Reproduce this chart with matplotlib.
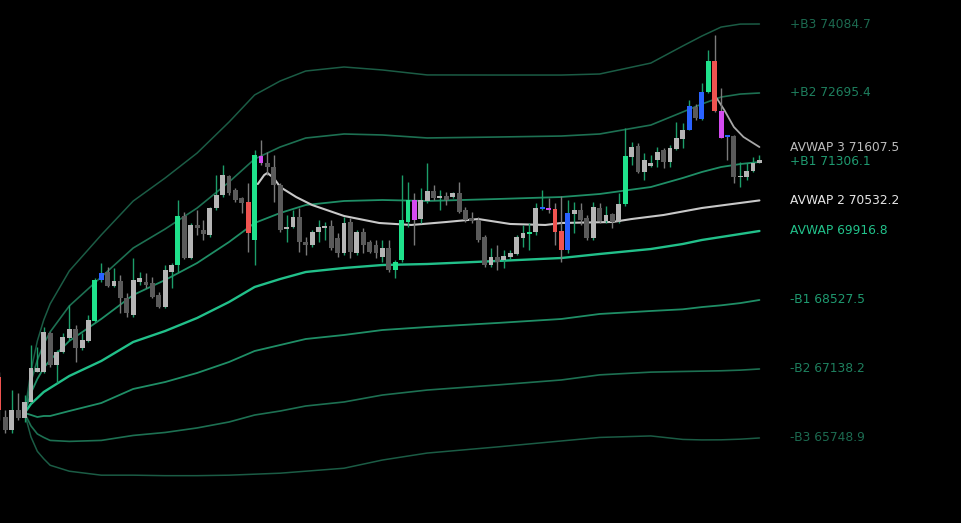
import matplotlib
matplotlib.use("Agg")
import matplotlib.pyplot as plt
import matplotlib.transforms as mtransforms
import numpy as np

# candles (price), one per bar
opens = [66977, 66172, 65910, 66313, 66152, 66474, 67078, 67078, 67863, 67219,
         67480, 67763, 67944, 67561, 67702, 68105, 68930, 69091, 68809, 68910,
         68568, 68226, 68890, 68890, 68870, 68628, 68386, 69091, 69232, 70219,
         69373, 70038, 69937, 69836, 70380, 70642, 71024, 70742, 70581, 70501,
         69736, 71427, 71286, 71205, 70843, 69957, 69997, 70199, 69695, 69635,
         69897, 69977, 70017, 69776, 69474, 70098, 69474, 69897, 69695, 69635,
         69393, 69575, 69132, 69333, 70098, 70541, 70158, 70521, 70722, 70581,
         70622, 70601, 70682, 70340, 70179, 70138, 69796, 69232, 69393, 69333,
         69393, 69454, 69776, 69856, 69897, 70360, 70380, 70360, 69917, 69534,
         70259, 70340, 70179, 69776, 70380, 70118, 70259, 70098, 70460, 71407,
         71628, 71105, 71226, 71346, 71548, 71306, 71568, 71769, 71950, 72414,
         72172, 72716, 73340, 72333, 71830, 71830, 71004, 71004, 71125, 71286]
highs = [67078, 66313, 66715, 66655, 66615, 67622, 67581, 67984, 67883, 67521,
         67863, 68427, 68024, 67863, 68226, 68971, 69272, 69192, 69172, 69031,
         68669, 69373, 69091, 69071, 68991, 68689, 69232, 69272, 70541, 70299,
         70078, 70340, 70138, 70400, 71044, 71246, 71044, 70783, 70601, 70883,
         71548, 71749, 71507, 71447, 70883, 70239, 70340, 70380, 69796, 69937,
         70138, 70098, 70138, 69876, 70199, 70179, 69937, 69977, 69736, 69736,
         69736, 69736, 69333, 71044, 70903, 70682, 70783, 71286, 70843, 70742,
         70702, 70702, 70903, 70400, 70299, 70199, 69836, 69575, 69635, 69534,
         69534, 69836, 70038, 70078, 70481, 70742, 70581, 70481, 70622, 70541,
         70501, 70481, 70239, 70501, 70481, 70420, 70279, 70682, 71991, 71709,
         71689, 71487, 71447, 71608, 71588, 71648, 72112, 72091, 72555, 72475,
         72897, 73561, 73863, 72796, 71850, 71850, 71306, 71286, 71407, 71447]
lows = [66111, 65850, 65850, 66111, 66071, 66454, 67078, 67058, 67178, 66856,
        67460, 67722, 67279, 67521, 67682, 68084, 68890, 68789, 68789, 68266,
        68185, 68185, 68830, 68769, 68568, 68366, 68366, 68769, 69091, 69353,
        69353, 69836, 69736, 69796, 70340, 70601, 70642, 70501, 70279, 69494,
        69232, 71246, 71044, 70501, 69897, 69695, 69977, 69494, 69434, 69595,
        69695, 69736, 69534, 69393, 69434, 69373, 69434, 69474, 69474, 69373,
        69293, 69091, 68971, 69293, 69997, 69635, 70078, 70481, 70541, 70340,
        70440, 70581, 70279, 70098, 70078, 69695, 69192, 69192, 69132, 69172,
        69353, 69434, 69595, 69534, 69836, 70340, 70279, 69635, 69293, 69474,
        69876, 70038, 69736, 69736, 70078, 70078, 69977, 70078, 70420, 71246,
        71085, 70944, 71205, 71205, 71185, 71205, 71548, 71588, 71950, 72152,
        72152, 72696, 72313, 71789, 71346, 70883, 70803, 70944, 71105, 71286]
closes = [66313, 65910, 66313, 66152, 66474, 67158, 67158, 67883, 67219, 67480,
          67783, 67944, 67561, 67722, 68125, 68930, 69071, 68809, 68910, 68568,
          68266, 68930, 68971, 68830, 68588, 68386, 69132, 69232, 70219, 69373,
          70038, 69977, 69856, 70380, 70642, 71044, 70682, 70541, 70481, 69876,
          71447, 71286, 71205, 70843, 69937, 69997, 70199, 69695, 69635, 69897,
          69997, 70017, 69575, 69474, 70078, 69494, 69897, 69635, 69494, 69474,
          69575, 69132, 69293, 70138, 70541, 70138, 70541, 70722, 70581, 70622,
          70541, 70682, 70299, 70138, 70118, 69736, 69232, 69393, 69293, 69413,
          69474, 69796, 69876, 69897, 70380, 70380, 70340, 69897, 69534, 70279,
          70340, 70138, 69776, 70400, 70118, 70239, 70098, 70460, 71427, 71608,
          71105, 71346, 71286, 71507, 71306, 71588, 71789, 71950, 72434, 72192,
          72716, 73340, 72333, 71789, 71810, 71004, 71024, 71125, 71286, 71346]
# body colour per bar: n normal, g green, r red, b blue, m magenta
kinds = ("r" "nnnnnnnnnnnnnn" "gb" "nnnnnnnnnnn" "g" "nnnnnnnnnn" "rgm"
         "nnnnnnnnnnnnnnnnnnnn" "gggm" "nnnnnnnnnnnnnnnnn" "gnbmrrb" "nnnnnnnn"
         "g" "nnnnnnnnn" "bnbgrmb" "nnnnn")

# anchored VWAP and its bands, read at these bar positions
band_x = [4, 5, 6, 7, 8, 11, 16, 21, 26, 31, 36, 40, 44, 48, 54, 60, 67, 78,
          88, 94, 102, 107, 110, 113, 116, 119]
avwap = [66252, 66434, 66554, 66675, 66756, 66997, 67299, 67682, 67903, 68165,
         68487, 68789, 68950, 69091, 69172, 69232, 69252, 69313, 69373, 69454,
         69554, 69655, 69736, 69796, 69856, 69916.8]
up1 = [66252, 66655, 66937, 67158, 67320, 67702, 68145, 68628, 68930, 69272,
       69695, 70078, 70279, 70440, 70521, 70541, 70521, 70561, 70601, 70662,
       70802, 70984, 71105, 71205, 71265, 71306.1]
up2 = [66252, 66876, 67320, 67641, 67884, 68407, 68991, 69574, 69957, 70379,
       70903, 71367, 71608, 71789, 71870, 71850, 71790, 71809, 71829, 71870,
       72050, 72313, 72474, 72614, 72674, 72695.4]
up3 = [66252, 67097, 67703, 68124, 68448, 69112, 69837, 70520, 70984, 71486,
       72111, 72656, 72937, 73138, 73219, 73159, 73059, 73057, 73057, 73078,
       73298, 73642, 73843, 74023, 74083, 74084.7]
dn1 = [66252, 66213, 66171, 66192, 66192, 66292, 66453, 66736, 66876, 67058,
       67279, 67500, 67621, 67742, 67823, 67923, 67983, 68065, 68145, 68246,
       68306, 68340, 68385, 68420, 68465, 68527.5]
dn2 = [66252, 65992, 65830, 65760, 65700, 65680, 65700, 65800, 65860, 65951,
       66071, 66211, 66292, 66393, 66474, 66614, 66714, 66817, 66917, 67020,
       67075, 67088, 67095, 67102, 67115, 67138.2]
dn3 = [66252, 65771, 65480, 65330, 65200, 65080, 65000, 65000, 64990, 64990,
       65000, 65020, 65040, 65080, 65140, 65305, 65445, 65569, 65689, 65760,
       65790, 65720, 65710, 65712, 65725, 65748.9]

# second anchored VWAP (from the big green bar) and third (from the top)
avwap2_x = [40.5, 41.5, 42, 43, 44, 46.5, 49, 54, 59.5, 64.5, 70, 75, 80, 85.5,
            88, 96, 99, 104, 110, 119]
avwap2 = [70863, 71044, 71085, 70984, 70803, 70601, 70440, 70219, 70078, 70038,
          70098, 70158, 70058, 70038, 70078, 70098, 70158, 70239, 70380, 70532.2]
avwap3_x = [112, 113.5, 115, 116.5, 119]
avwap3 = [72655, 72353, 72011, 71810, 71607.5]

labels = [("+B3", up3[-1], "#1c6a50"), ("+B2", up2[-1], "#1e7f5e"),
          ("AVWAP 3", avwap3[-1], "#bdbdbd"), ("+B1", up1[-1], "#1f9a70"),
          ("AVWAP 2", avwap2[-1], "#e6e6e6"), ("AVWAP", avwap[-1], "#22c28b"),
          ("-B1", dn1[-1], "#1f9a70"), ("-B2", dn2[-1], "#1e7f5e"),
          ("-B3", dn3[-1], "#1c6a50")]

body_colors = {"g": "#1fe28c", "r": "#ef5350", "b": "#2962ff", "m": "#d44bf0"}

fig = plt.figure(figsize=(9.62, 5.23), dpi=100, facecolor="black")
ax = fig.add_axes([0, 0, 1, 1])
ax.set_facecolor("black")
ax.set_xlim(0.156, 150.7)
ax.set_ylim(64037, 74568)
ax.axis("off")

# bands
line_kw = dict(zorder=1, solid_joinstyle="round", solid_capstyle="round")
ax.plot(band_x, up3, color="#1b5c45", lw=1.1, **line_kw)
ax.plot(band_x, dn3, color="#1b5c45", lw=1.1, **line_kw)
ax.plot(band_x, up2, color="#1d7052", lw=1.2, **line_kw)
ax.plot(band_x, dn2, color="#1d7052", lw=1.2, **line_kw)
ax.plot(band_x, up1, color="#1f8e66", lw=1.3, **line_kw)
ax.plot(band_x, dn1, color="#1f8e66", lw=1.3, **line_kw)
ax.plot(band_x, avwap, color="#22c08a", lw=1.7, **line_kw)
ax.plot(avwap2_x, avwap2, color="#c8c8c8", lw=1.5, **line_kw)
ax.plot(avwap3_x, avwap3, color="#a8a8a8", lw=1.3, **line_kw)

# candles
o = np.array(opens, dtype=float)
c = np.array(closes, dtype=float)
x = np.arange(len(o))
up = c >= o
wick_col = np.where(up, "#1c9e6a", "#7a7a7a")
ax.vlines(x, lows, highs, colors=wick_col, lw=1.0, zorder=2)
bcol = []
for k, u in zip(kinds, up):
    if k in body_colors:
        bcol.append(body_colors[k])
    else:
        bcol.append("#b5b5b5" if u else "#5a5a5a")
bottom = np.minimum(o, c)
height = np.maximum(np.abs(c - o), 30)
ax.bar(x, height, bottom=bottom, width=0.76, color=bcol, zorder=3)

# right-hand labels
trans = mtransforms.blended_transform_factory(ax.transAxes, ax.transData)
for name, val, col in labels:
    ax.text(790 / 962, val, f"{name} {val:.1f}", color=col, fontsize=8.8,
            va="center", ha="left", transform=trans)

fig.savefig("out.png", dpi=100, facecolor="black")
